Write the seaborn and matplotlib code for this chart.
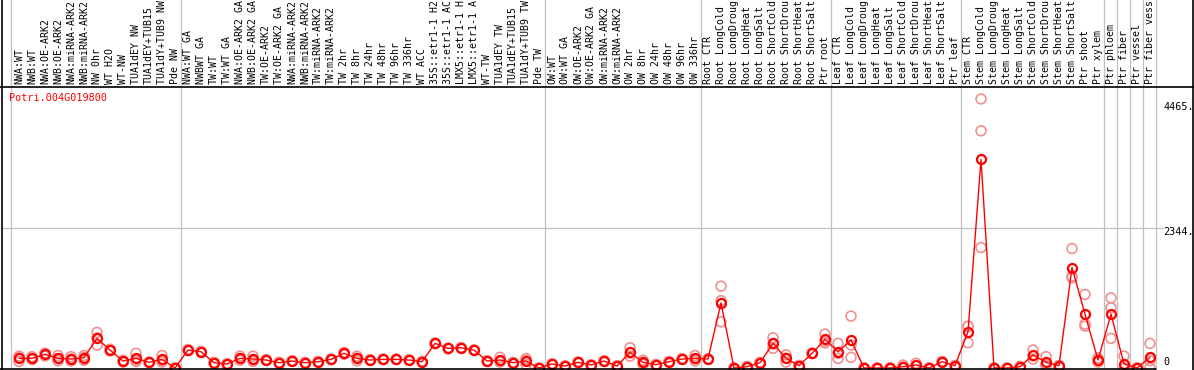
import numpy as np
import pandas as pd
import matplotlib
matplotlib.use("Agg")
import matplotlib.pyplot as plt
from matplotlib.lines import Line2D
import seaborn as sns

# sample names, one per column
samples = [
    "NWA:WT", "NWB:WT", "NWA:OE-ARK2", "NWB:OE-ARK2", "NWA:miRNA-ARK2", "NWB:miRNA-ARK2",
    "NW 0hr", "WT H2O", "WT-NW", "TUA1dEY NW", "TUA1dEY+TUB15 NW", "TUA1dY+TUB9 NW", "Pde NW",
    "NWA:WT GA", "NWBWT GA", "TW:WT", "TW:WT GA", "NWA:OE-ARK2 GA", "NWB:OE-ARK2 GA",
    "TW:OE-ARK2", "TW:OE-ARK2 GA", "NWA:miRNA-ARK2 GA", "NWB:miRNA-ARK2 GA", "TW:miRNA-ARK2",
    "TW:miRNA-ARK2 GA", "TW 2hr", "TW 8hr", "TW 24hr", "TW 48hr", "TW 96hr", "TW 336hr",
    "WT ACC", "35S::etr1-1 H2O", "35S::etr1-1 ACC", "LMX5::etr1-1 H2O", "LMX5::etr1-1 ACC",
    "WT-TW", "TUA1dEY TW", "TUA1dEY+TUB15 TW", "TUA1dY+TUB9 TW", "Pde TW",
    "OW:WT", "OW:WT GA", "OW:OE-ARK2", "OW:OE-ARK2 GA", "OW:miRNA-ARK2", "OW:miRNA-ARK2 GA",
    "OW 2hr", "OW 8hr", "OW 24hr", "OW 48hr", "OW 96hr", "OW 336hr",
    "Root CTR", "Root LongCold", "Root LongDrought", "Root LongHeat", "Root LongSalt",
    "Root ShortCold", "Root ShortDrought", "Root ShortHeat", "Root ShortSalt", "Ptr root",
    "Leaf CTR", "Leaf LongCold", "Leaf LongDrought", "Leaf LongHeat", "Leaf LongSalt",
    "Leaf ShortCold", "Leaf ShortDrought", "Leaf ShortHeat", "Leaf ShortSalt", "Ptr leaf",
    "Stem CTR", "Stem LongCold", "Stem LongDrought", "Stem LongHeat", "Stem LongSalt",
    "Stem ShortCold", "Stem ShortDrought", "Stem ShortHeat", "Stem ShortSalt", "Ptr shoot",
    "Ptr xylem", "Ptr phloem", "Ptr fiber", "Ptr vessel", "Ptr fiber vessel",
]

# mean expression per sample
mean_expr = [
    162, 162, 229, 162, 151, 173, 497, 301, 117, 162, 95, 145, 0,
    301, 273, 89, 67, 162, 151, 134, 89, 117, 89, 106, 145, 246, 162, 134, 145, 145,
    134, 106, 413, 329, 340, 301, 117, 134, 89, 117, 0,
    67, 33, 95, 50, 117, 33, 262, 95, 56, 106, 151, 162,
    151, 1093, 0, 22, 89, 413, 162, 39, 246, 480,
    273, 469, 0, 0, 0, 22, 50, 0, 106, 39,
    608, 3499, 0, 0, 22, 218, 95, 39, 1686, 904, 134,
    904, 67, 0, 179,
]

# individual replicates per sample
replicates = [
    [200, 110, 170], [190, 140, 160], [250, 200, 235], [210, 120, 160], [190, 120, 150],
    [210, 130, 175], [598, 385, 505], [300, 290, 315], [130, 100, 120], [246, 110, 130],
    [100, 90, 95], [210, 100, 130], [0, 0, 0],
    [300, 290, 310], [270, 265, 280], [95, 85, 90], [70, 60, 70], [200, 130, 160],
    [200, 110, 145], [140, 130, 135], [95, 85, 90], [120, 110, 120], [95, 85, 90],
    [110, 100, 108], [150, 140, 145], [260, 230, 250], [200, 120, 165], [140, 130, 134],
    [150, 140, 145], [150, 140, 145], [140, 130, 134], [110, 100, 108], [420, 405, 413],
    [335, 320, 330], [345, 335, 340], [305, 295, 300], [120, 110, 120], [180, 120, 100],
    [95, 85, 90], [160, 60, 130], [0, 0, 0],
    [70, 60, 70], [35, 30, 35], [100, 90, 95], [55, 45, 50], [120, 110, 120], [35, 30, 35],
    [340, 200, 250], [130, 60, 95], [60, 50, 58], [110, 100, 108], [155, 145, 152],
    [210, 120, 155],
    [155, 145, 152], [1373, 775, 1130], [0, 0, 0], [25, 20, 22], [95, 85, 90],
    [507, 330, 400], [220, 100, 165], [40, 35, 42], [250, 240, 248], [569, 420, 450],
    [413, 162, 245], [871, 386, 178], [0, 0, 0], [0, 0, 0], [0, 0, 0], [50, 0, 15],
    [80, 30, 40], [0, 0, 0], [110, 100, 108], [40, 35, 42],
    [703, 424, 697], [4515, 3980, 2021], [0, 0, 0], [0, 0, 0], [25, 20, 22],
    [301, 150, 203], [190, 50, 45], [40, 35, 42], [2004, 1540, 1515], [1234, 737, 703],
    [134, 100, 170],
    [1177, 1010, 497], [200, 0, 0], [0, 0, 0], [413, 0, 124],
]

# last column of each block, a grey rule follows it
group_ends = [12, 40, 52, 62, 72, 83, 84, 85, 86, 87]

y_ticks = [4465, 2344, 0]
gene_id = "Potri.004G019800"
max_chars = 14  # the header strip only has room for this many

df_mean = pd.DataFrame({"col": np.arange(len(samples)), "expr": mean_expr})
df_rep = pd.DataFrame(
    [(i, v) for i, reps in enumerate(replicates) for v in reps],
    columns=["col", "expr"],
)

sns.set_style("white")
plt.rcParams["font.family"] = ["DejaVu Sans Mono"]
W, H = 1194, 370
fig = plt.figure(figsize=(W / 100, H / 100), dpi=100)

# pixel helpers: column i sits at x = 19 + 13 * i
x_lo, x_hi = (2 - 19) / 13, (1193 - 19) / 13
px_per_val = 2344 / 139.7

ax_lab = fig.add_axes([2 / W, (H - 87) / H, 1191 / W, 87 / H])
ax = fig.add_axes([2 / W, 1 / H, 1191 / W, 282 / H])

ax_lab.set_xlim(x_lo, x_hi)
ax_lab.set_ylim(87, 0)
ax_lab.axis("off")
for i, name in enumerate(samples):
    ax_lab.text(i, 84.5, name[:max_chars].rstrip(), rotation=90, ha="center", va="bottom",
                fontsize=7.1, color="black")

grid_c = "#c0c0c0"
bounds = [-0.65] + [g + 0.45 for g in group_ends]
for b in bounds:
    ax_lab.axvline(b, color=grid_c, lw=0.9, zorder=0)
    ax.axvline(b, color=grid_c, lw=0.9, zorder=0)

ax.set_xlim(x_lo, x_hi)
ax.set_ylim(-1 * px_per_val, 281 * px_per_val)
ax.axis("off")
ax.axhline(2344, xmax=((1163 - 19) / 13 - x_lo) / (x_hi - x_lo), color=grid_c, lw=0.9, zorder=0)

sns.scatterplot(data=df_rep, x="col", y="expr", ax=ax, marker="o", s=50, legend=False, zorder=2, clip_on=False)
pts = ax.collections[-1]
pts.set_facecolor("none")
pts.set_edgecolor("#f09090")
pts.set_linewidth(1.2)

sns.lineplot(data=df_mean, x="col", y="expr", ax=ax, color="red", lw=1.0,
             marker="o", markersize=6.5, mfc="none", mec="red", mew=1.6, zorder=3, clip_on=False)
ax.set_xlabel("")
ax.set_ylabel("")

for v, off in zip(y_ticks, [5, 4, -6]):
    ax.text((1163 - 19) / 13, v - off * px_per_val, f"{v}." if v else "0",
            ha="left", va="center", fontsize=7.3, color="black")

ax.text((9 - 19) / 13, (368 - 98) * px_per_val, gene_id, ha="left", va="center",
        fontsize=7.3, color="red")

# black frame
fig.add_artist(Line2D([1.5 / W, 1.5 / W], [0, 1], color="black", lw=1.2))
fig.add_artist(Line2D([1192.5 / W, 1192.5 / W], [0, 1], color="black", lw=1.2))
fig.add_artist(Line2D([0, 1], [(H - 86.5) / H] * 2, color="black", lw=1.2))
fig.add_artist(Line2D([0, 1156 / W], [(H - 368.5) / H] * 2, color="black", lw=1.2))

fig.savefig("out.png", dpi=100)
